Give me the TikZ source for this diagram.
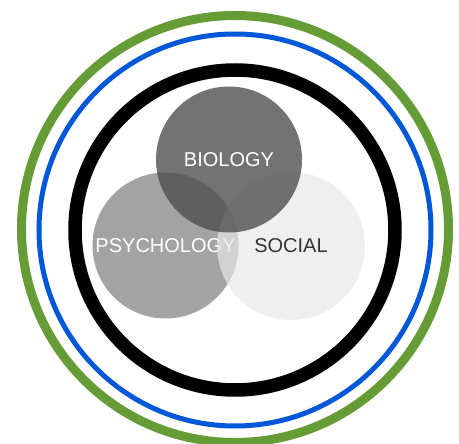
\documentclass[tikz,border=0pt]{standalone}
\usepackage{fontspec}
\setmainfont{Liberation Sans}
\definecolor{ringgreen}{HTML}{659C35}
\definecolor{ringblue}{HTML}{0057D8}
\definecolor{biofill}{HTML}{4C4C4C}
\definecolor{psyfill}{HTML}{A3A3A3}
\definecolor{socfill}{HTML}{E8E8E8}
\definecolor{soctext}{HTML}{333333}
\tikzset{
  ring/.style={draw, fill=none, circle, inner sep=0pt},
  venn/.style={circle, inner sep=0pt, minimum size=146pt, text opacity=1,
    font=\fontsize{20}{23}\selectfont},
}
\begin{document}
\begin{tikzpicture}[x=1pt,y=-1pt]
\useasboundingbox (0,0) rectangle (459,444);
\fill[white] (0,0) rectangle (459,444);
\node[ring, draw=ringgreen, line width=9pt, minimum size=427pt] (green) at (235,229) {};
\node[ring, draw=ringblue, line width=5pt, minimum size=392pt] (blue) at (235,230) {};
\node[ring, draw=black, line width=13.5pt, minimum size=320pt] (black) at (235,230) {};
\node[venn, fill=psyfill, text=white] (psy) at (165.5,245.5) {PSYCHOLOGY};
\node[venn, fill=socfill, fill opacity=0.685, text=soctext, minimum size=148pt] (soc) at (291,246) {SOCIAL};
\node[venn, fill=biofill, fill opacity=0.78, text=white] (bio) at (229,159.5) {BIOLOGY};
\end{tikzpicture}
\end{document}
